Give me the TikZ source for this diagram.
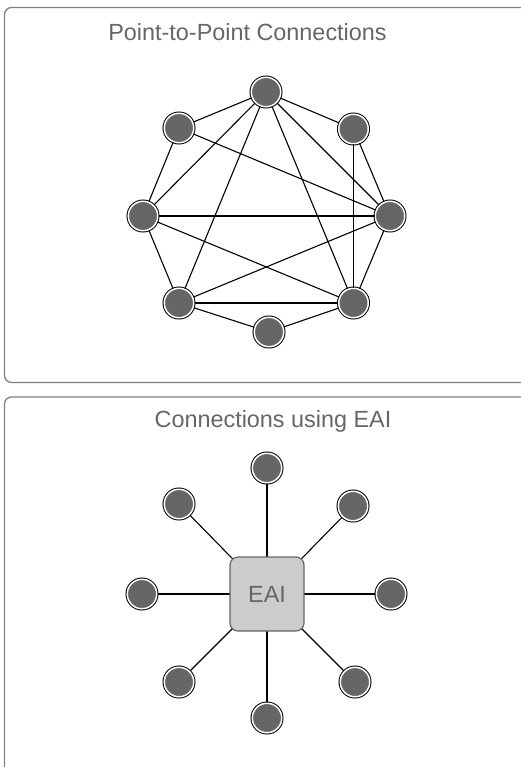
\documentclass[tikz,border=0pt]{standalone}
\usepackage{fontspec}
\setmainfont{Liberation Sans}
\usetikzlibrary{backgrounds}
\definecolor{nodegrey}{HTML}{666666}
\definecolor{framegrey}{HTML}{808080}
\definecolor{boxfill}{HTML}{CCCCCC}
\definecolor{textgrey}{HTML}{666666}
\begin{document}
\begin{tikzpicture}[x=1pt,y=-1pt,
  panel/.style={draw=framegrey,line width=1.3pt,rounded corners=7pt},
  title/.style={anchor=base,text=textgrey,font=\fontsize{23.4}{28}\selectfont,inner sep=0pt},
  station/.style={circle,minimum size=29.5pt,inner sep=0pt,fill=nodegrey,
    draw=white,line width=1.5pt,preaction={draw=black,line width=3.5pt}},
  link/.style={draw=black,line width=1.1pt},
  hub/.style={rectangle,minimum size=74pt,inner sep=0pt,rounded corners=8pt,
    fill=boxfill,draw=nodegrey,line width=1.2pt,text=textgrey,
    font=\fontsize{23.4}{28}\selectfont}]
\useasboundingbox (0,0) rectangle (521,767);
\clip (0,0) rectangle (521,767);

% panel frames
\draw[panel] (4.5,7.5) rectangle (540,382.5);
\draw[panel] (4.5,397) rectangle (540,790);

% point-to-point mesh
\node[title] (t-title) at (247.5,40.5) {Point-to-Point Connections};
\node[station] (t1) at (266,92) {};
\node[station] (t2) at (179,128) {};
\node[station] (t3) at (353.5,129) {};
\node[station] (t4) at (143,216) {};
\node[station] (t5) at (390,216) {};
\node[station] (t6) at (179,303) {};
\node[station] (t7) at (353.5,303) {};
\node[station] (t8) at (269,332) {};
\foreach \a/\b in {t1/t2,t1/t3,t1/t4,t1/t5,t1/t6,t1/t7,
                   t2/t4,t2/t5,t3/t5,t3/t7,
                   t4/t5,t4/t6,t4/t7,t5/t6,t5/t7,
                   t6/t7,t6/t8,t7/t8}
  \draw[link] (\a) -- (\b);

% hub-and-spoke
\node[title] (b-title) at (273,427.5) {Connections using EAI};
\node[hub] (eai) at (267,594) {EAI};
\node[station] (b1) at (267,468) {};
\node[station] (b2) at (179,504) {};
\node[station] (b3) at (353,506) {};
\node[station] (b4) at (142,594) {};
\node[station] (b5) at (391,594) {};
\node[station] (b6) at (179,682) {};
\node[station] (b7) at (355,682) {};
\node[station] (b8) at (267,718) {};
\begin{scope}[on background layer]
\foreach \s in {b1,b2,b3,b4,b5,b6,b7,b8}
  \draw[link] (\s) -- (eai.center);
\end{scope}
\end{tikzpicture}
\end{document}
